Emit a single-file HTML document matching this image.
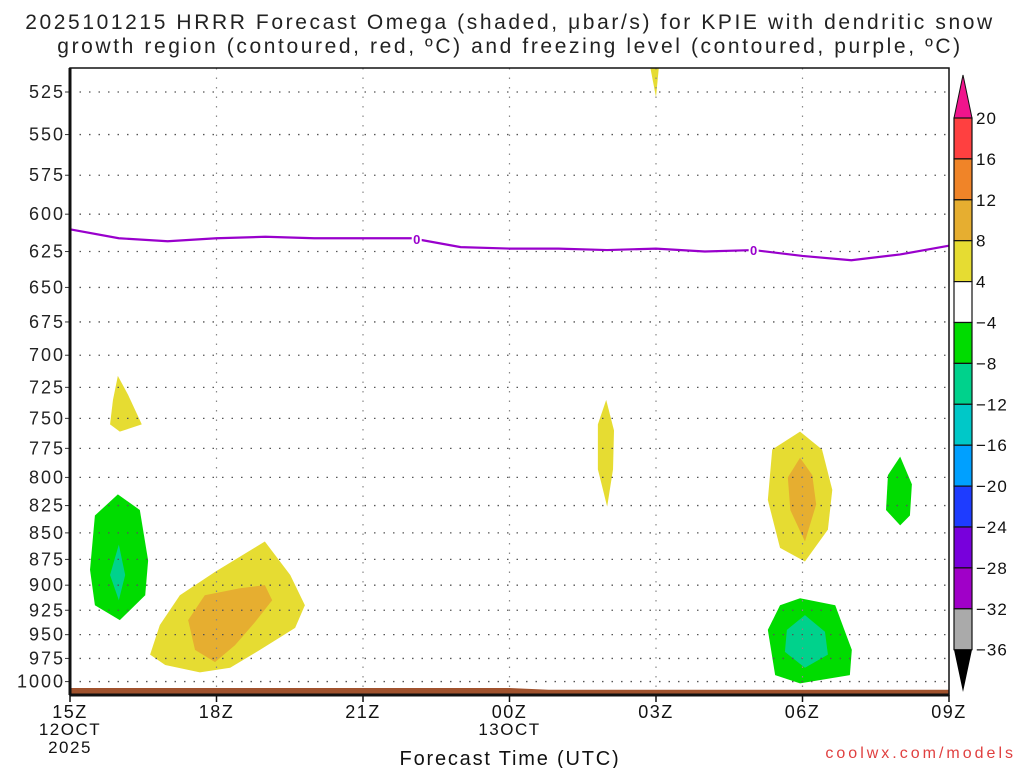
<!DOCTYPE html>
<html><head><meta charset="utf-8"><style>
body{margin:0;background:#fff;width:1024px;height:768px;overflow:hidden}
svg{display:block;font-family:"Liberation Sans",sans-serif}
</style></head><body>
<svg id="c" width="1024" height="768" viewBox="0 0 1024 768">
<text x="510" y="29" text-anchor="middle" font-size="21" letter-spacing="2.6" fill="#222">2025101215 HRRR Forecast Omega (shaded, μbar/s) for KPIE with dendritic snow</text>
<text x="510" y="53" text-anchor="middle" font-size="21" letter-spacing="2.6" fill="#222">growth region (contoured, red, ºC) and freezing level (contoured, purple, ºC)</text>
<g id="fills"></g><g id="grid"></g><g id="axes"></g><g id="cbar"></g>
<text x="510" y="765" text-anchor="middle" font-size="20" letter-spacing="1.8" fill="#111">Forecast Time (UTC)</text>
<text x="1016" y="758" text-anchor="end" font-size="16" letter-spacing="3" fill="#e04040">coolwx.com/models</text>
</svg>
<script>
const pTicks=[525,550,575,600,625,650,675,700,725,750,775,800,825,850,875,900,925,950,975,1000];
const xTickHours=[0,3,6,9,12,15,18];
const xTickLabels=["15Z","18Z","21Z","00Z","03Z","06Z","09Z"];
const freezeHours=[0,1,2,3,4,5,6,7,8,9,10,11,12,13,14,15,16,17,18];
const freezeP=[610,616,618,616,615,616,616,616,622,623,623,624,623,625,624,628,631,627,621];
const freezeLabelHours=[7.1,14];
const cbarLevels=["20","16","12","8","4","−4","−8","−12","−16","−20","−24","−28","−32","−36"];
const cbarColors=["#ff4040","#f08428","#e6ae30","#e6dc32","#ffffff","#00dc00","#00d28c","#00c8c8","#00a0ff","#1e3cff","#7800dc","#a000c8","#aaaaaa"];
const yellow1=[[0.98,716],[1.19,731],[1.47,755],[1.02,761],[0.82,755],[0.88,735]];
const green1=[[0.98,815],[1.43,829],[1.6,876],[1.54,910],[1.02,935],[0.51,920],[0.41,885],[0.51,834]];
const teal1=[[1.0,861],[1.13,890],[1.0,915],[0.82,890]];
const yellow2=[[3.99,858],[4.51,890],[4.81,920],[4.61,943],[3.89,966],[3.28,985],[2.66,990],[1.95,982],[1.64,971],[1.84,940],[2.25,910],[2.97,887]];
const orange2=[[3.99,900],[4.14,915],[3.79,937],[3.38,961],[2.97,979],[2.56,966],[2.42,935],[2.76,910],[3.48,903]];
const yellowTop=[[11.84,505],[12.08,505],[12.0,528]];
const yellow3=[[10.98,735],[11.14,760],[11.12,793],[11.0,826],[10.81,793],[10.81,755]];
const yellow4=[[14.95,761],[15.4,776],[15.61,811],[15.52,847],[15.05,877],[14.54,864],[14.29,820],[14.38,776]];
const orange4=[[14.95,783],[15.2,798],[15.28,824],[15.05,858],[14.75,829],[14.7,800]];
const green5=[[17.0,782],[17.24,806],[17.2,834],[17.0,843],[16.71,829],[16.75,798]];
const green6=[[14.95,913],[15.67,920],[16.01,966],[15.97,993],[14.95,1002],[14.44,993],[14.29,945],[14.54,920]];
const teal6=[[15.05,930],[15.46,947],[15.52,971],[15.05,985],[14.64,968],[14.68,945]];
const groundHours=[0,9,9.8,18];
const groundP=[1007,1007,1009,1009];

const L=70,R=949,T=68,B=695;
const xs=h=>L+h*(R-L)/18;
const ys=p=>92+915*Math.log(p/525);
const NS="http://www.w3.org/2000/svg";
function mk(tag,parent,attrs){const e=document.createElementNS(NS,tag);for(const k in attrs)e.setAttribute(k,attrs[k]);parent.appendChild(e);return e;}
const svgEl=document.getElementById('c');
const defs=mk('defs',svgEl,{});
const cp=mk('clipPath',defs,{id:'pc'});mk('rect',cp,{x:L,y:T,width:R-L,height:B-T});
const fills=document.getElementById('fills');fills.setAttribute('clip-path','url(#pc)');
function poly(pts,color,name){const e=mk('polygon',fills,{points:pts.map(q=>xs(q[0])+','+ys(q[1])).join(' '),fill:color});

}
poly(yellow1,'#e6dc32','omega-yellow-1');
poly(green1,'#00dc00','omega-green-1');
poly(teal1,'#00d28c','omega-teal-1');
poly(yellow2,'#e6dc32','omega-yellow-2');
poly(orange2,'#e6ae30','omega-orange-2');
poly(yellowTop,'#e6dc32','omega-yellow-top');
poly(yellow3,'#e6dc32','omega-yellow-3');
poly(yellow4,'#e6dc32','omega-yellow-4');
poly(orange4,'#e6ae30','omega-orange-4');
poly(green5,'#00dc00','omega-green-5');
poly(green6,'#00dc00','omega-green-6');
poly(teal6,'#00d28c','omega-teal-6');
let gp=groundHours.map((h,i)=>xs(h)+','+ys(groundP[i])).join(' ')+' '+xs(18)+','+B+' '+xs(0)+','+B;
const gnd=mk('polygon',fills,{points:gp,fill:'#a0522d'});


const grid=document.getElementById('grid');
pTicks.forEach(p=>{const y=ys(p);
const l=mk('line',grid,{x1:L,x2:R,y1:y,y2:y,stroke:'#555','stroke-width':1.3,'stroke-dasharray':'1.5 8'});


mk('line',grid,{x1:L-5,x2:L,y1:y,y2:y,stroke:'#333'});
const t=mk('text',grid,{x:L-5,y:y+6,'text-anchor':'end','font-size':18,'letter-spacing':2,fill:'#222'});t.textContent=p;

});
xTickHours.forEach((h,i)=>{const x=xs(h);
if(i>0&&i<6){const l=mk('line',grid,{x1:x,x2:x,y1:T,y2:B,stroke:'#888','stroke-width':1.2,'stroke-dasharray':'1.5 8'});

}
mk('line',grid,{x1:x,x2:x,y1:B,y2:B+7,stroke:'#111','stroke-width':1.5});
const t=mk('text',grid,{x:x,y:718,'text-anchor':'middle','font-size':18,'letter-spacing':1.5,fill:'#111'});t.textContent=xTickLabels[i];

});
[["12OCT",0,735],["2025",0,753],["13OCT",9,735]].forEach(a=>{const t=mk('text',grid,{x:xs(a[1]),y:a[2],'text-anchor':'middle','font-size':17,'letter-spacing':1.5,fill:'#111'});t.textContent=a[0];

});
const fl=mk('polyline',grid,{points:freezeHours.map((h,i)=>xs(h)+','+ys(freezeP[i])).join(' '),fill:'none',stroke:'#9900cc','stroke-width':2.2});


freezeLabelHours.forEach(h=>{let i=Math.floor(h),f=h-i;const p=freezeP[i]+(freezeP[Math.min(i+1,18)]-freezeP[i])*f;
mk('rect',grid,{x:xs(h)-5,y:ys(p)-7,width:10,height:13,fill:'#fff'});
const t=mk('text',grid,{x:xs(h),y:ys(p)+5,'text-anchor':'middle','font-size':13,'font-weight':'bold',fill:'#9900cc'});t.textContent='0';

});
const ax=document.getElementById('axes');
const fr=mk('rect',ax,{x:L,y:T,width:R-L,height:B-T,fill:'none',stroke:'#111','stroke-width':1.5});


mk('line',ax,{x1:L,x2:L,y1:T,y2:B,stroke:'#111','stroke-width':3});
mk('line',ax,{x1:L,x2:R,y1:B,y2:B,stroke:'#111','stroke-width':3});
const cb=document.getElementById('cbar');
const cx=954,cw=18,cTop=118,sh=40.9;
const up=mk('polygon',cb,{points:`${cx},${cTop} ${cx+cw},${cTop} ${cx+cw/2},75`,fill:'#f0148c',stroke:'#111'});


cbarColors.forEach((c,i)=>{const r=mk('rect',cb,{x:cx,y:cTop+i*sh,width:cw,height:sh,fill:c,stroke:'#111','stroke-width':1.2});

});
const cBot=cTop+cbarColors.length*sh;
const dn=mk('polygon',cb,{points:`${cx},${cBot} ${cx+cw},${cBot} ${cx+cw/2},692`,fill:'#000'});


cbarLevels.forEach((l,i)=>{const t=mk('text',cb,{x:976,y:cTop+i*sh+6,'font-size':17,'letter-spacing':1,fill:'#111'});t.textContent=l;

});
</script>
</body></html>
